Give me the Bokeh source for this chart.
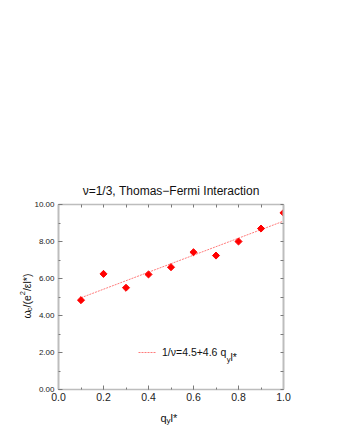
import math
from bokeh.plotting import figure
from bokeh.models import (Range1d, LinearAxis, SingleIntervalTicker, PrintfTickFormatter,
                          CustomJSTickFormatter, Label, Legend, LegendItem)
from bokeh.embed import file_html
from bokeh.resources import INLINE

# ---- data ----
q_values = [0.1, 0.2, 0.3, 0.4, 0.5, 0.6, 0.7, 0.8, 0.9, 1.0]
omega_values = [4.83, 6.25, 5.50, 6.22, 6.61, 7.42, 7.24, 8.00, 8.70, 9.55]
fit_intercept = 4.5
fit_slope = 4.6
fit_x = [0.1, 1.0]
fit_y = [fit_intercept + fit_slope * v for v in fit_x]

title_text = "ν=1/3, Thomas−Fermi Interaction"
legend_text = "1/ν=4.5+4.6 q"

FONT = "Liberation Sans"
AXIS_GRAY = "#bdbdbd"
TICK_GRAY = "#7a7a7a"

BL, BR, BT, BB = 58, 47, 204, 40
FW, FH = 225, 185
W_ALL, H_ALL = BL + FW + BR, BT + FH + BB

p = figure(width=W_ALL, height=H_ALL, output_backend="svg", toolbar_location=None,
           x_range=Range1d(0, 1), y_range=Range1d(0, 10),
           min_border_left=BL, min_border_right=BR, min_border_top=BT, min_border_bottom=BB)
p.grid.visible = False
p.outline_line_color = None
p.background_fill_color = "white"

def style_axis(ax, line_w):
    ax.axis_line_color = AXIS_GRAY
    ax.axis_line_width = line_w
    ax.major_tick_in = 4
    ax.major_tick_out = 0
    ax.minor_tick_in = 2
    ax.minor_tick_out = 0
    ax.major_tick_line_color = TICK_GRAY
    ax.minor_tick_line_color = TICK_GRAY
    ax.major_label_text_font = FONT
    ax.major_label_text_color = "#222222"

ly = p.yaxis[0]
ly.ticker = SingleIntervalTicker(interval=2, num_minor_ticks=2)
ly.formatter = PrintfTickFormatter(format="%.2f")
style_axis(ly, 2)
ly.major_label_text_font_size = "8px"
ly.major_label_standoff = 4

bx = p.xaxis[0]
bx.ticker = SingleIntervalTicker(interval=0.2, num_minor_ticks=2)
bx.formatter = PrintfTickFormatter(format="%.1f")
style_axis(bx, 1.5)
bx.major_label_text_font_size = "10.5px"
bx.major_label_standoff = 3

blank = CustomJSTickFormatter(code="return ''")
tx = LinearAxis(ticker=SingleIntervalTicker(interval=0.1, num_minor_ticks=0), formatter=blank)
style_axis(tx, 1.5)
tx.major_tick_in = 3
tx.major_label_text_font_size = "1px"
p.add_layout(tx, "above")

ry = LinearAxis(ticker=SingleIntervalTicker(interval=1, num_minor_ticks=0), formatter=blank)
style_axis(ry, 2)
ry.major_tick_in = 3
ry.major_label_text_font_size = "1px"
p.add_layout(ry, "right")

fit = p.line(fit_x, fit_y, line_color="#ff7a7a", line_width=1, line_dash="2 1")
p.scatter(q_values, omega_values, marker="square", angle=math.pi / 4, size=5,
          fill_color="red", line_color="red")

W = {'0': .556, '1': .556, '2': .556, '3': .556, '4': .556, '5': .556, '6': .556, '7': .556,
     '8': .556, '9': .556, '.': .278, '/': .278, '(': .333, ')': .333, '=': .584, '+': .584,
     ' ': .278, '*': .389, 'l': .222, 'q': .556, 'y': .5, 'e': .556, 'c': .5, 'ω': .69,
     'ν': .5, 'ε': .45}

def twidth(s, size):
    return sum(W.get(ch, .55) for ch in s) * size

def rich(parts, x0, y0, angle=0.0, side=None):
    """parts: (text, size px, baseline shift px, + = up); x0,y0 px offsets from data (0,0)."""
    pos = 0.0
    for text, size, shift in parts:
        if angle == 0:
            xo, yo = x0 + pos, y0 + shift
        else:
            xo, yo = x0 - shift, y0 + pos
        lab = Label(x=0, y=0, x_offset=xo, y_offset=yo, text=text, angle=angle,
                    text_font=FONT, text_font_size=f"{size}px", text_color="#111111",
                    text_align="left", text_baseline="alphabetic")
        if side:
            p.add_layout(lab, side)
        else:
            p.add_layout(lab)
        pos += twidth(text, size)

# title, anchored at the top centre of the data area
p.add_layout(Label(x=0.5, y=10, y_offset=14, text=title_text, text_font=FONT,
                   text_font_size="12px", text_align="center", text_baseline="middle",
                   text_color="#111111"), "above")

rich([("ω", 10.5, 0), ("c", 7.5, -3), ("/(e", 10.5, 0), ("2", 7.5, 4.5), ("/εl*)", 10.5, 0)],
     -32, 71, angle=math.pi / 2, side="above")

rich([("q", 11, 0), ("y", 8, -3), ("l*", 11, 0)], 102, -28, side="above")

leg = Legend(items=[LegendItem(label=legend_text, renderers=[fit])],
             location=(80, 27), padding=0, margin=0, spacing=0, glyph_width=18,
             glyph_height=20, label_standoff=6, label_height=20,
             label_text_font=FONT, label_text_font_size="10.5px", label_text_color="#111111",
             border_line_alpha=0, background_fill_alpha=0)
p.add_layout(leg)
sub_x = 80 + 18 + 6 + twidth(legend_text, 10.5)
rich([("y", 7.5, -3), ("l*", 10.5, 0)], sub_x, 33)

open("out.html", "w").write(file_html(p, INLINE))
